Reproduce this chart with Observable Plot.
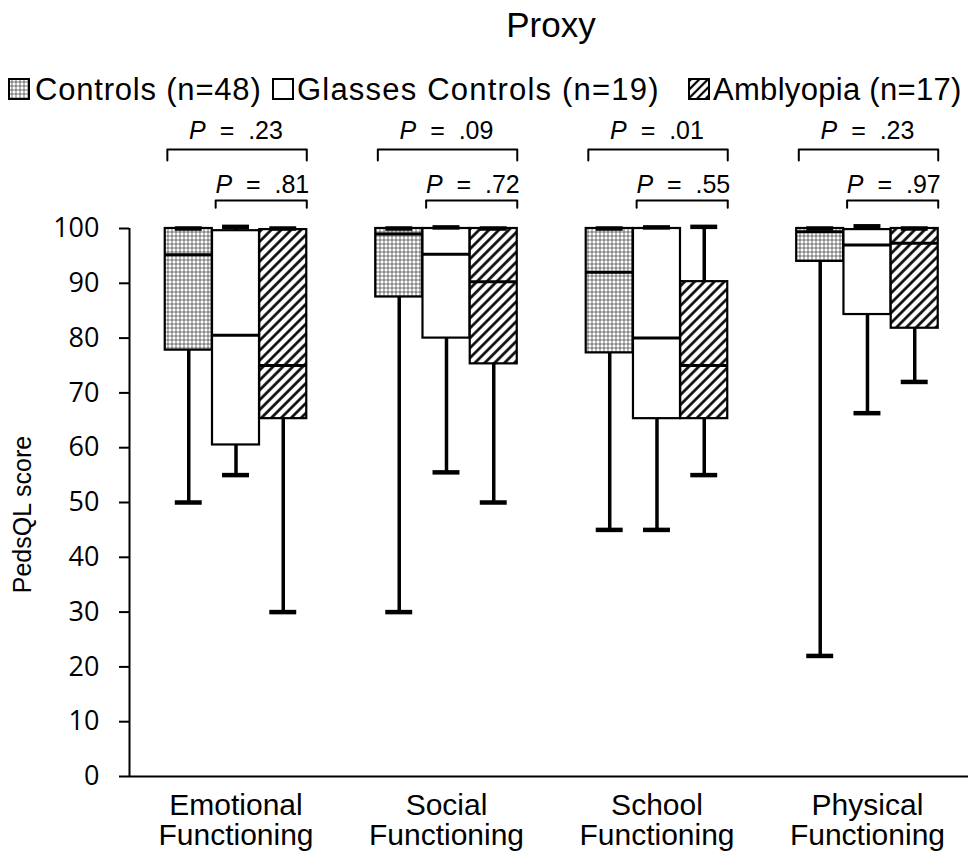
<!DOCTYPE html>
<html><head><meta charset="utf-8">
<script src="https://cdn.jsdelivr.net/npm/d3@7"></script>
<script src="https://cdn.jsdelivr.net/npm/@observablehq/plot@0.6"></script>
<style>
body{margin:0;background:#fff;}
#wrap{position:relative;width:968px;height:859px;font-family:"Liberation Sans",Arial,sans-serif;color:#000;overflow:hidden;}
#head{position:relative;height:120px;}
.title{position:absolute;left:451px;width:200px;top:7px;text-align:center;font-size:35px;line-height:35px;}
.legtxt{position:absolute;top:74px;font-size:31px;line-height:31px;white-space:nowrap;}
.sw{position:absolute;top:78px;width:22px;height:22px;}
#ylab{position:absolute;left:-78px;top:502px;width:200px;text-align:center;font-size:25px;line-height:25px;transform:rotate(-90deg);transform-origin:center;}
</style></head>
<body>
<div id="wrap">
  <div id="head">
    <div class="title">Proxy</div>
    <svg class="sw" style="left:8px" viewBox="0 0 22 22"><rect x="1" y="1" width="20" height="20" fill="url(#stipL)" stroke="#000" stroke-width="2"/></svg>
    <div class="legtxt" id="lg0" style="left:35px;letter-spacing:0.8px"></div>
    <svg class="sw" style="left:272px" viewBox="0 0 22 22"><rect x="1" y="1" width="20" height="20" fill="#fff" stroke="#000" stroke-width="2"/></svg>
    <div class="legtxt" id="lg1" style="left:297px;letter-spacing:1.2px"></div>
    <svg class="sw" style="left:688px" viewBox="0 0 22 22">
      <defs>
        <pattern id="stipL" patternUnits="userSpaceOnUse" width="4" height="4">
          <rect width="4" height="4" fill="#b4b4b4"/><circle cx="2" cy="2" r="1.2" fill="#fff"/>
          <circle cx="0" cy="0" r="0.8" fill="#555"/><circle cx="4" cy="0" r="0.8" fill="#555"/><circle cx="0" cy="4" r="0.8" fill="#555"/><circle cx="4" cy="4" r="0.8" fill="#555"/>
        </pattern>
        <pattern id="hatchL" patternUnits="userSpaceOnUse" width="6" height="6" patternTransform="rotate(45)">
          <rect width="6" height="6" fill="#fff"/><line x1="3" y1="0" x2="3" y2="6" stroke="#000" stroke-width="2.2"/>
        </pattern>
      </defs>
      <rect x="1" y="1" width="20" height="20" fill="url(#hatchL)" stroke="#000" stroke-width="2"/></svg>
    <div class="legtxt" id="lg2" style="left:713px;letter-spacing:0.3px"></div>
  </div>
  <div id="ylab">PedsQL score</div>
  <div id="chart"></div>
</div>
<script>
// ---- data ----
const categories = ["Emotional Functioning", "Social Functioning", "School Functioning", "Physical Functioning"];
const xTickLabels = ["Emotional\nFunctioning", "Social\nFunctioning", "School\nFunctioning", "Physical\nFunctioning"];
const groups = ["Controls (n=48)", "Glasses Controls (n=19)", "Amblyopia (n=17)"];
// each row: [min, q1, median, q3, max] per category
const controls  = [[50, 77.8, 95.2, 100, 100], [30, 87.5, 99, 100, 100], [45, 77.3, 92, 100, 100], [22, 94, 99.4, 100, 100]];
const glasses   = [[55, 60.5, 80.5, 99.6, 100.3], [55.5, 80, 95.3, 100, 100.2], [45, 65.3, 80, 100, 100.2], [66.3, 84.3, 97, 99.8, 100.4]];
const amblyopia = [[30, 65.3, 75, 99.8, 100], [50, 75.3, 90.3, 100, 100], [55, 65.3, 75, 90.3, 100.3], [72, 81.8, 97.3, 100, 100]];
const pTop = [".23", ".09", ".01", ".23"];   // Controls vs Amblyopia
const pLow = [".81", ".72", ".55", ".97"];   // Glasses Controls vs Amblyopia
const yTicks = [0, 10, 20, 30, 40, 50, 60, 70, 80, 90, 100];
// annotation levels (in score units above the axis)
const topBracketLevel = 114.4, topBracketEnd = 112.4, topTextLevel = 116.4;
const lowBracketLevel = 105.1, lowBracketEnd = 103.8, lowTextLevel = 106.4;

groups.forEach((g, k) => document.getElementById("lg" + k).textContent = g);

// ---- layout helpers ----
const xDomain = [-0.506, 3.48];
const step = 0.2245, hw = 0.1117, capHw = 0.064;
const series = [controls, glasses, amblyopia];
const rows = [];
series.forEach((s, k) => s.forEach((v, i) => rows.push({
  k, i, cx: i + (k - 1) * step, min: v[0], q1: v[1], med: v[2], q3: v[3], max: v[4]
})));

const brackets = [];
categories.forEach((c, i) => {
  const xa = i - step - hw + 0.01, xb = i + step + hw, xg = i - hw + 0.015;
  [[xa, topBracketEnd], [xa, topBracketLevel], [xb, topBracketLevel], [xb, topBracketEnd]]
    .forEach(([x, y]) => brackets.push({id: "t" + i, x, y}));
  [[xg, lowBracketEnd], [xg, lowBracketLevel], [xb, lowBracketLevel], [xb, lowBracketEnd]]
    .forEach(([x, y]) => brackets.push({id: "l" + i, x, y}));
});

const fills = ["url(#stip)", "white", "url(#hatch)"];
const font = "Liberation Sans, Arial, sans-serif";

const boxMarks = [0, 1, 2].map(k => Plot.rect(rows.filter(d => d.k === k), {
  x1: d => d.cx - hw, x2: d => d.cx + hw, y1: "q1", y2: "q3",
  fill: fills[k], stroke: "black", strokeWidth: 2.2
}));

const svg = Plot.plot({
  width: 968, height: 739,
  marginLeft: 129, marginRight: 0, marginTop: 108, marginBottom: 83,
  x: {domain: xDomain, axis: null},
  y: {domain: [0, 100], axis: null},
  style: {fontFamily: font, background: "white", overflow: "visible", color: "black"},
  marks: [
    Plot.ruleX(rows, {x: "cx", y1: "min", y2: "q1", strokeWidth: 3.5}),
    Plot.ruleX(rows.filter(d => d.max > d.q3), {x: "cx", y1: "q3", y2: "max", strokeWidth: 3.5}),
    ...boxMarks,
    Plot.ruleY(rows, {y: "med", x1: d => d.cx - hw, x2: d => d.cx + hw, strokeWidth: 3}),
    Plot.ruleY(rows, {y: "min", x1: d => d.cx - capHw, x2: d => d.cx + capHw, strokeWidth: 4.5}),
    Plot.ruleY(rows, {y: "max", x1: d => d.cx - capHw, x2: d => d.cx + capHw, strokeWidth: 4.5}),
    Plot.ruleY([0], {strokeWidth: 2}),
    Plot.ruleX([xDomain[0]], {y1: 0, y2: 100, strokeWidth: 2}),
    Plot.axisY({ticks: yTicks, tickSize: 10, tickPadding: 20, fontSize: 27, fontFamily: "Open Sans", label: null, strokeWidth: 2}),
    Plot.text(xTickLabels, {x: (d, i) => i, y: () => 0, text: d => d, dy: 17, lineAnchor: "top", lineHeight: 1.0, fontSize: 30, fontFamily: font}),
    Plot.line(brackets, {x: "x", y: "y", z: "id", strokeWidth: 2, curve: "linear"}),
    Plot.text(pTop, {x: (d, i) => i, y: () => topTextLevel, text: d => "P\u00a0\u00a0=\u00a0\u00a0" + d, lineAnchor: "bottom", fontSize: 25, fontFamily: font}),
    Plot.text(pLow, {x: (d, i) => i + 0.125, y: () => lowTextLevel, text: d => "P\u00a0\u00a0=\u00a0\u00a0" + d, lineAnchor: "bottom", fontSize: 25, fontFamily: font})
  ]
});

// patterns
const defs = d3.select(svg).insert("defs", ":first-child");
const st = defs.append("pattern").attr("id", "stip").attr("patternUnits", "userSpaceOnUse").attr("width", 4).attr("height", 4);
st.append("rect").attr("width", 4).attr("height", 4).attr("fill", "#b4b4b4");
st.append("circle").attr("cx", 2).attr("cy", 2).attr("r", 1.2).attr("fill", "#fff");
[[0,0],[4,0],[0,4],[4,4]].forEach(([x,y]) => st.append("circle").attr("cx", x).attr("cy", y).attr("r", 0.8).attr("fill", "#555"));
const ht = defs.append("pattern").attr("id", "hatch").attr("patternUnits", "userSpaceOnUse").attr("width", 7).attr("height", 7).attr("patternTransform", "rotate(45)");
ht.append("rect").attr("width", 7).attr("height", 7).attr("fill", "#fff");
ht.append("line").attr("x1", 3.5).attr("y1", 0).attr("x2", 3.5).attr("y2", 7).attr("stroke", "#000").attr("stroke-width", 2.6);

// italic P in the p-value labels
svg.querySelectorAll("text").forEach(t => {
  if (t.children.length === 0 && t.textContent.startsWith("P\u00a0")) {
    const rest = t.textContent.slice(1);
    t.textContent = "";
    const ns = "http://www.w3.org/2000/svg";
    const a = document.createElementNS(ns, "tspan");
    a.setAttribute("font-style", "italic");
    a.textContent = "P";
    const b = document.createElementNS(ns, "tspan");
    b.textContent = rest;
    t.append(a, b);
  }
});

document.getElementById("chart").append(svg);
</script>
</body></html>
